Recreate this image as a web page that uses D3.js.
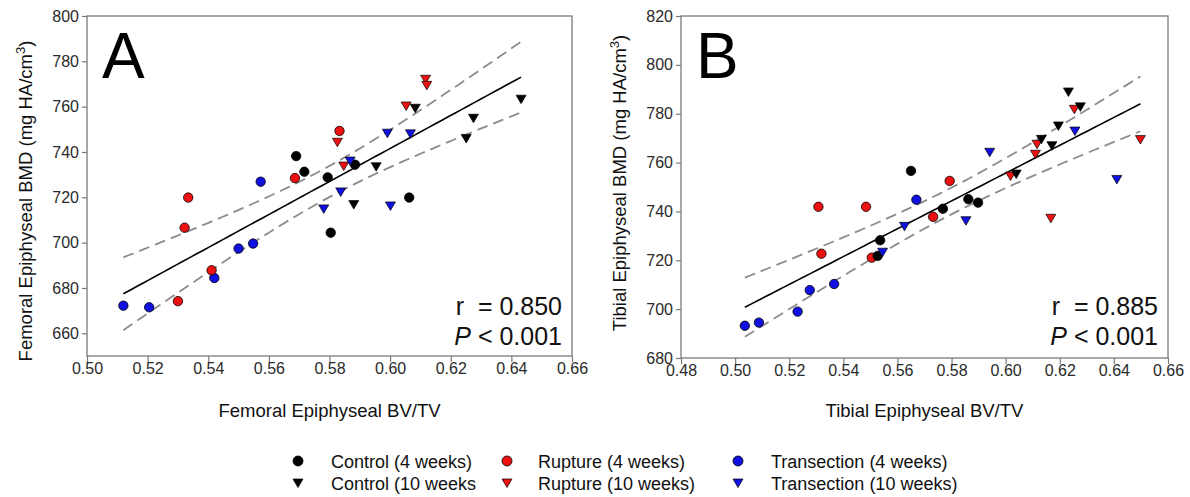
<!DOCTYPE html>
<html>
<head>
<meta charset="utf-8">
<script src="https://cdn.jsdelivr.net/npm/d3@7"></script>
<style>
  body { margin: 0; background: #fff; }
  svg { font-family: "Liberation Sans", Arial, sans-serif; }
</style>
</head>
<body>
<svg id="chart" width="1190" height="497"></svg>
<script>
// panel A: femoral BV/TV vs BMD  [x, y]
var femControl4 = [[0.569, 738.2], [0.5717, 731.3], [0.5794, 728.8], [0.5884, 734.4], [0.5804, 704.4], [0.6063, 719.9]];
var femControl10 = [[0.5880, 716.8], [0.5954, 733.5], [0.6083, 759.3], [0.6251, 746.0], [0.6275, 754.9], [0.6432, 763.3]];
var femRupture4 = [[0.5334, 719.9], [0.5322, 706.6], [0.5411, 687.8], [0.530, 674.2], [0.5686, 728.5], [0.5833, 749.3]];
var femRupture10 = [[0.5826, 744.3], [0.5847, 733.8], [0.6053, 760.3], [0.6117, 772.1], [0.6121, 769.4]];
var femTransection4 = [[0.512, 672.2], [0.5205, 671.5], [0.542, 684.4], [0.550, 697.4], [0.5548, 699.6], [0.5573, 726.9]];
var femTransection10 = [[0.5868, 736.0], [0.5837, 722.4], [0.5781, 714.9], [0.5991, 748.3], [0.6001, 716.2], [0.6067, 748.0]];

// panel B: tibial BV/TV vs BMD
var tibControl4 = [[0.5650, 756.6], [0.5536, 728.2], [0.5768, 741.1], [0.5862, 745.0], [0.5898, 743.6], [0.5527, 721.8]];
var tibControl10 = [[0.6039, 755.3], [0.6132, 769.5], [0.6171, 766.9], [0.6195, 775.0], [0.6232, 788.9], [0.6276, 782.8]];
var tibRupture4 = [[0.5308, 741.9], [0.5484, 741.9], [0.5319, 722.7], [0.5505, 721.1], [0.5732, 737.8], [0.5793, 752.5]];
var tibRupture10 = [[0.6018, 754.5], [0.6110, 763.4], [0.6116, 767.5], [0.6254, 781.8], [0.6167, 737.2], [0.6498, 769.4]];
var tibTransection4 = [[0.5036, 693.2], [0.5088, 694.5], [0.5231, 699.0], [0.5276, 707.8], [0.5366, 710.3], [0.5670, 744.8]];
var tibTransection10 = [[0.5545, 723.3], [0.5626, 733.9], [0.5941, 764.2], [0.5853, 736.2], [0.6256, 772.9], [0.6411, 753.1]];

var femXTicks = [0.50, 0.52, 0.54, 0.56, 0.58, 0.60, 0.62, 0.64, 0.66];
var femYTicks = [660, 680, 700, 720, 740, 760, 780, 800];
var tibXTicks = [0.48, 0.50, 0.52, 0.54, 0.56, 0.58, 0.60, 0.62, 0.64, 0.66];
var tibYTicks = [680, 700, 720, 740, 760, 780, 800, 820];

var legendLabels = ['Control (4 weeks)', 'Control (10 weeks', 'Rupture (4 weeks)', 'Rupture (10 weeks)', 'Transection (4 weeks)', 'Transection (10 weeks)'];

var fills = { control: '#000000', rupture: '#ee1111', transection: '#1010e0' };
var triPath = 'M-5,-4L5,-4L0,4.5Z';

var svg = d3.select('#chart');

// least squares fit, band drawn with the two-sided z of the band level
function fitLine(pts, z) {
  var n = pts.length;
  var mx = d3.mean(pts, d => d[0]), my = d3.mean(pts, d => d[1]);
  var sxx = d3.sum(pts, d => (d[0] - mx) * (d[0] - mx));
  var sxy = d3.sum(pts, d => (d[0] - mx) * (d[1] - my));
  var b = sxy / sxx, a = my - b * mx;
  var sse = d3.sum(pts, d => Math.pow(d[1] - (a + b * d[0]), 2));
  var s = Math.sqrt(sse / (n - 2));
  var df = n - 2;
  var t = z + (z * z * z + z) / (4 * df) + (5 * Math.pow(z, 5) + 16 * z * z * z + 3 * z) / (96 * df * df);
  return { a: a, b: b, mx: mx, sxx: sxx, s: s, t: t, n: n };
}

function drawPanel(opt) {
  var x = d3.scaleLinear().domain(opt.xDomain).range([opt.left, opt.right]);
  var y = d3.scaleLinear().domain(opt.yDomain).range([opt.bottom, opt.top]);
  var g = svg.append('g');

  // frame
  g.append('rect')
    .attr('x', opt.left).attr('y', opt.top)
    .attr('width', opt.right - opt.left).attr('height', opt.bottom - opt.top)
    .attr('fill', 'none').attr('stroke', '#7a7a7a').attr('stroke-width', 1.3);

  var xAxis = g.append('g').attr('transform', 'translate(0,' + opt.bottom + ')')
    .call(d3.axisBottom(x).tickValues(opt.xTicks).tickFormat(d3.format('.2f')).tickSize(6).tickSizeOuter(0));
  var yAxis = g.append('g').attr('transform', 'translate(' + opt.left + ',0)')
    .call(d3.axisLeft(y).tickValues(opt.yTicks).tickFormat(d3.format('d')).tickSize(5).tickSizeOuter(0));
  [xAxis, yAxis].forEach(function(ax) {
    ax.select('.domain').remove();
    ax.selectAll('.tick line').attr('stroke', '#7a7a7a').attr('stroke-width', 1.2);
    ax.selectAll('.tick text').attr('fill', '#2a2a2a').style('font-size', '16px')
      .style('font-family', '"Liberation Sans", Arial, sans-serif');
  });
  xAxis.selectAll('.tick text').attr('dy', '0.5em').attr('y', 10);
  yAxis.selectAll('.tick text').attr('x', -8);

  // regression and confidence band
  var all = [].concat.apply([], opt.groups.map(g => g.pts));
  var f = fitLine(all, 2.576);
  var x0 = d3.min(all, d => d[0]), x1 = d3.max(all, d => d[0]);
  var xs = d3.range(0, 61).map(i => x0 + i / 60 * (x1 - x0));
  function band(sign) {
    return xs.map(v => [v, f.a + f.b * v + sign * f.t * f.s * Math.sqrt(1 / f.n + (v - f.mx) * (v - f.mx) / f.sxx)]);
  }
  var line = d3.line().x(d => x(d[0])).y(d => y(d[1]));
  g.append('path').attr('d', line(band(1))).attr('fill', 'none')
    .attr('stroke', '#8c8c8c').attr('stroke-width', 1.8).attr('stroke-dasharray', '11,6');
  g.append('path').attr('d', line(band(-1))).attr('fill', 'none')
    .attr('stroke', '#8c8c8c').attr('stroke-width', 1.8).attr('stroke-dasharray', '11,6');
  g.append('path').attr('d', line(band(0))).attr('fill', 'none')
    .attr('stroke', '#000').attr('stroke-width', 1.6);

  // points
  opt.groups.forEach(function(grp) {
    var sel = g.append('g').selectAll('.pt').data(grp.pts).enter();
    if (grp.shape == 'circle') {
      sel.append('circle')
        .attr('cx', d => x(d[0])).attr('cy', d => y(d[1])).attr('r', 4.7)
        .attr('fill', fills[grp.kind]).attr('stroke', '#000').attr('stroke-width', 0.8);
    } else {
      sel.append('path')
        .attr('d', triPath)
        .attr('transform', d => 'translate(' + x(d[0]) + ',' + y(d[1]) + ')')
        .attr('fill', fills[grp.kind]).attr('stroke', '#000').attr('stroke-width', 0.7);
    }
  });

  // panel letter
  g.append('text').attr('x', opt.left + 15).attr('y', opt.top + 62)
    .style('font-size', '64px').text(opt.letter);

  // stats
  var st = g.append('text').attr('text-anchor', 'end').style('font-size', '25px').attr('fill', '#111');
  st.append('tspan').attr('x', opt.right - 10).attr('y', 315).text('r \u00a0= ' + opt.r);
  var p = st.append('tspan').attr('x', opt.right - 10).attr('y', 345);
  p.append('tspan').style('font-style', 'italic').text('P');
  p.append('tspan').text(' < 0.001');

  // axis titles
  g.append('text').attr('x', (opt.left + opt.right) / 2).attr('y', 417)
    .attr('text-anchor', 'middle').style('font-size', '18.5px').attr('fill', '#111').text(opt.xTitle);
  var yt = g.append('text')
    .attr('transform', 'translate(' + opt.yTitleX + ',' + opt.yTitleY + ') rotate(-90)')
    .attr('text-anchor', 'middle').style('font-size', '18.5px').attr('fill', '#111');
  yt.append('tspan').text(opt.yTitle + ' (mg HA/cm');
  yt.append('tspan').attr('dy', -7).style('font-size', '13px').text('3');
  yt.append('tspan').attr('dy', 7).text(')');
}

drawPanel({
  letter: 'A', r: '0.850',
  left: 87, right: 572, top: 16, bottom: 356,
  xDomain: [0.50, 0.66], yDomain: [650, 800],
  xTicks: femXTicks, yTicks: femYTicks,
  xTitle: 'Femoral Epiphyseal BV/TV', yTitle: 'Femoral Epiphyseal BMD',
  yTitleX: 32, yTitleY: 201,
  groups: [
    { pts: femTransection4, kind: 'transection', shape: 'circle' },
    { pts: femRupture4, kind: 'rupture', shape: 'circle' },
    { pts: femControl4, kind: 'control', shape: 'circle' },
    { pts: femRupture10, kind: 'rupture', shape: 'tri' },
    { pts: femTransection10, kind: 'transection', shape: 'tri' },
    { pts: femControl10, kind: 'control', shape: 'tri' }
  ]
});

drawPanel({
  letter: 'B', r: '0.885',
  left: 681, right: 1168, top: 16, bottom: 358,
  xDomain: [0.48, 0.66], yDomain: [680, 820],
  xTicks: tibXTicks, yTicks: tibYTicks,
  xTitle: 'Tibial Epiphyseal BV/TV', yTitle: 'Tibial Epiphyseal BMD',
  yTitleX: 626, yTitleY: 183,
  groups: [
    { pts: tibTransection4, kind: 'transection', shape: 'circle' },
    { pts: tibRupture4, kind: 'rupture', shape: 'circle' },
    { pts: tibControl4, kind: 'control', shape: 'circle' },
    { pts: tibRupture10, kind: 'rupture', shape: 'tri' },
    { pts: tibTransection10, kind: 'transection', shape: 'tri' },
    { pts: tibControl10, kind: 'control', shape: 'tri' }
  ]
});

// legend
var legendItems = [
  { label: legendLabels[0], kind: 'control', shape: 'circle', mx: 298, tx: 331, row: 0 },
  { label: legendLabels[1], kind: 'control', shape: 'tri', mx: 298, tx: 331, row: 1 },
  { label: legendLabels[2], kind: 'rupture', shape: 'circle', mx: 507, tx: 538, row: 0 },
  { label: legendLabels[3], kind: 'rupture', shape: 'tri', mx: 507, tx: 538, row: 1 },
  { label: legendLabels[4], kind: 'transection', shape: 'circle', mx: 738, tx: 771, row: 0 },
  { label: legendLabels[5], kind: 'transection', shape: 'tri', mx: 738, tx: 771, row: 1 }
];
var leg = svg.append('g').selectAll('g').data(legendItems).enter().append('g')
  .attr('transform', d => 'translate(0,' + (461 + d.row * 22) + ')');
leg.filter(d => d.shape == 'circle').append('circle')
  .attr('cx', d => d.mx).attr('cy', 0).attr('r', 5)
  .attr('fill', d => fills[d.kind]).attr('stroke', '#000').attr('stroke-width', 0.8);
leg.filter(d => d.shape == 'tri').append('path')
  .attr('d', triPath).attr('transform', d => 'translate(' + d.mx + ',0)')
  .attr('fill', d => fills[d.kind]).attr('stroke', '#000').attr('stroke-width', 0.7);
leg.append('text').attr('x', d => d.tx).attr('y', 6.5)
  .style('font-size', '18px').attr('fill', '#111').text(d => d.label);
</script>
</body>
</html>
